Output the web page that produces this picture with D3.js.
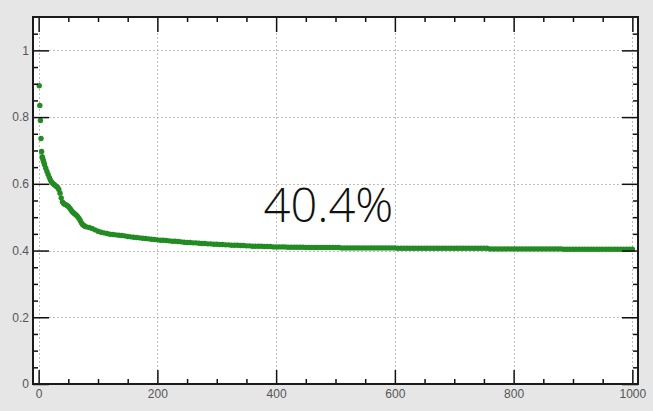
<!DOCTYPE html>
<html>
<head>
<meta charset="utf-8">
<script src="https://cdn.jsdelivr.net/npm/d3@7"></script>
<style>
  html, body { margin: 0; padding: 0; background: #e6e6e6; }
  svg { display: block; }
  .tick text { font-family: "Liberation Sans", Arial, sans-serif; font-size: 12px; fill: #555; }
</style>
</head>
<body>
<svg id="chart" width="653" height="411"></svg>
<script>
// Running hit rate per trial number
const earlyTrials = [1, 2, 3, 4, 5, 6, 7, 8, 9, 10, 12, 14, 16, 18, 20, 22, 24, 26, 28, 30,
  32, 34, 36, 38, 40, 42, 44, 46, 48, 50, 52, 54, 56, 58, 60, 62, 64, 66, 68, 70,
  72, 74, 76, 78, 80];
const earlyRate = [0.894, 0.835, 0.790, 0.736, 0.697, 0.681, 0.675, 0.669, 0.663, 0.657,
  0.647, 0.637, 0.628, 0.619, 0.611, 0.605, 0.601, 0.598, 0.595, 0.592,
  0.589, 0.583, 0.572, 0.558, 0.546, 0.541, 0.539, 0.537, 0.535, 0.532,
  0.528, 0.523, 0.518, 0.514, 0.511, 0.508, 0.505, 0.501, 0.496, 0.490,
  0.483, 0.478, 0.475, 0.473, 0.471];

const laterTrials = [85, 90, 95, 100, 105, 110, 115, 120, 125, 130, 135, 140, 145, 150,
  155, 160, 165, 170, 175, 180, 185, 190, 195, 200, 205, 210, 215, 220, 225, 230,
  235, 240, 245, 250, 255, 260, 265, 270, 275, 280, 285, 290, 295, 300, 305, 310,
  315, 320, 325, 330, 335, 340, 345, 350, 355, 360, 365, 370, 375, 380, 385, 390,
  395, 400, 405, 410, 415, 420, 425, 430, 435, 440, 445, 450, 455, 460, 465, 470,
  475, 480, 485, 490, 495, 500, 505, 510, 515, 520, 525, 530, 535, 540, 545, 550,
  555, 560, 565, 570, 575, 580, 585, 590, 595, 600, 605, 610, 615, 620, 625, 630,
  635, 640, 645, 650, 655, 660, 665, 670, 675, 680, 685, 690, 695, 700, 705, 710,
  715, 720, 725, 730, 735, 740, 745, 750, 755, 760, 765, 770, 775, 780, 785, 790,
  795, 800, 805, 810, 815, 820, 825, 830, 835, 840, 845, 850, 855, 860, 865, 870,
  875, 880, 885, 890, 895, 900, 905, 910, 915, 920, 925, 930, 935, 940, 945, 950,
  955, 960, 965, 970, 975, 980, 985, 990, 995, 1000];
const laterRate = [0.469, 0.466, 0.462, 0.458, 0.455, 0.453, 0.451, 0.449, 0.448, 0.447,
  0.446, 0.445, 0.444, 0.442, 0.441, 0.440, 0.439, 0.438, 0.437, 0.436,
  0.435, 0.434, 0.433, 0.432, 0.431, 0.431, 0.430, 0.429, 0.428, 0.428,
  0.427, 0.426, 0.425, 0.424, 0.424, 0.423, 0.423, 0.422, 0.421, 0.421,
  0.420, 0.420, 0.419, 0.419, 0.418, 0.418, 0.417, 0.417, 0.416, 0.416,
  0.416, 0.415, 0.415, 0.414, 0.414, 0.413, 0.413, 0.413, 0.413, 0.412,
  0.412, 0.412, 0.411, 0.411, 0.411, 0.411, 0.411, 0.410, 0.410, 0.410,
  0.410, 0.410, 0.410, 0.409, 0.409, 0.409, 0.409, 0.409, 0.409, 0.409,
  0.409, 0.409, 0.409, 0.409, 0.409, 0.408, 0.408, 0.408, 0.408, 0.408,
  0.408, 0.408, 0.408, 0.408, 0.408, 0.408, 0.408, 0.408, 0.408, 0.408,
  0.408, 0.408, 0.408, 0.408, 0.407, 0.407, 0.407, 0.407, 0.407, 0.407,
  0.407, 0.407, 0.407, 0.407, 0.407, 0.407, 0.407, 0.407, 0.407, 0.407,
  0.407, 0.407, 0.407, 0.407, 0.407, 0.407, 0.407, 0.407, 0.407, 0.407,
  0.407, 0.407, 0.407, 0.407, 0.407, 0.405, 0.405, 0.405, 0.405, 0.405,
  0.405, 0.405, 0.405, 0.405, 0.405, 0.405, 0.405, 0.405, 0.405, 0.405,
  0.405, 0.405, 0.405, 0.405, 0.405, 0.405, 0.405, 0.405, 0.405, 0.405,
  0.404, 0.404, 0.404, 0.404, 0.404, 0.404, 0.404, 0.404, 0.404, 0.404,
  0.404, 0.404, 0.404, 0.404, 0.404, 0.404, 0.404, 0.404, 0.404, 0.404,
  0.404, 0.404, 0.404, 0.404];

const xMajorTicks = [0, 200, 400, 600, 800, 1000];
const yMajorTicks = [0, 0.2, 0.4, 0.6, 0.8, 1];

const points = earlyTrials.map((t, i) => ({ t, v: earlyRate[i] }))
  .concat(laterTrials.map((t, i) => ({ t, v: laterRate[i] })));
const finalRate = points[points.length - 1].v;

const svg = d3.select("#chart");
const plot = { left: 33, right: 638, top: 17, bottom: 384 };

const x = d3.scaleLinear().domain([-9.5, 1009.5]).range([plot.left, plot.right]);
const y = d3.scaleLinear().domain([0, 1.1]).range([plot.bottom, plot.top]);

const xMinor = d3.range(0, 1001, 50).filter(v => v % 200 !== 0);
const yMinor = d3.range(0, 22).map(i => i * 0.05).filter(v => Math.abs(v * 5 - Math.round(v * 5)) > 1e-6);

svg.append("rect").attr("width", 653).attr("height", 411).attr("fill", "#e6e6e6");
svg.append("rect")
  .attr("x", plot.left).attr("y", plot.top)
  .attr("width", plot.right - plot.left).attr("height", plot.bottom - plot.top)
  .attr("fill", "#fff");

// dotted grid
const grid = svg.append("g").attr("stroke", "#bdbdbd").attr("stroke-width", 1).attr("stroke-dasharray", "2,2");
grid.selectAll("line.gx").data(xMajorTicks).join("line")
  .attr("x1", d => Math.round(x(d)) + 0.5).attr("x2", d => Math.round(x(d)) + 0.5)
  .attr("y1", plot.top).attr("y2", plot.bottom);
grid.selectAll("line.gy").data(yMajorTicks.filter(d => d > 0)).join("line")
  .attr("y1", d => Math.round(y(d)) + 0.5).attr("y2", d => Math.round(y(d)) + 0.5)
  .attr("x1", plot.left).attr("x2", plot.right);

// markers
svg.append("g").selectAll("circle").data(points).join("circle")
  .attr("cx", d => x(d.t)).attr("cy", d => y(d.v))
  .attr("r", 2.7).attr("fill", "#228b22");

// final rate annotation
svg.append("text")
  .attr("x", x(488)).attr("y", y(0.485))
  .attr("text-anchor", "middle")
  .attr("font-family", "'Open Sans', 'Noto Sans', sans-serif")
  .attr("font-weight", 300)
  .attr("font-size", 47)
  .attr("fill", "#111")
  .text(d3.format(".1%")(finalRate));

const fmtY = d => String(+d.toFixed(1));

function styleAxis(g) {
  g.select(".domain").remove();
  g.selectAll(".tick line").attr("stroke", "#111").attr("stroke-width", 1.5);
}

// bottom axis
svg.append("g").attr("transform", `translate(0,${plot.bottom})`)
  .call(d3.axisBottom(x).tickValues(xMinor).tickSize(-5).tickFormat(""))
  .call(styleAxis);
svg.append("g").attr("transform", `translate(0,${plot.bottom})`)
  .call(d3.axisBottom(x).tickValues(xMajorTicks).tickSize(-14).tickPadding(5).tickFormat(d3.format("d")))
  .call(styleAxis);

// top axis
svg.append("g").attr("transform", `translate(0,${plot.top})`)
  .call(d3.axisTop(x).tickValues(xMinor).tickSize(-5).tickFormat(""))
  .call(styleAxis);
svg.append("g").attr("transform", `translate(0,${plot.top})`)
  .call(d3.axisTop(x).tickValues(xMajorTicks).tickSize(-15).tickFormat(""))
  .call(styleAxis);

// left axis
svg.append("g").attr("transform", `translate(${plot.left},0)`)
  .call(d3.axisLeft(y).tickValues(yMinor).tickSize(-5).tickFormat(""))
  .call(styleAxis);
svg.append("g").attr("transform", `translate(${plot.left},0)`)
  .call(d3.axisLeft(y).tickValues(yMajorTicks).tickSize(-16).tickPadding(4).tickFormat(fmtY))
  .call(styleAxis);

// right axis
svg.append("g").attr("transform", `translate(${plot.right},0)`)
  .call(d3.axisRight(y).tickValues(yMinor).tickSize(-5).tickFormat(""))
  .call(styleAxis);
svg.append("g").attr("transform", `translate(${plot.right},0)`)
  .call(d3.axisRight(y).tickValues(yMajorTicks).tickSize(-16).tickFormat(""))
  .call(styleAxis);

// frame
svg.append("rect")
  .attr("x", plot.left).attr("y", plot.top)
  .attr("width", plot.right - plot.left).attr("height", plot.bottom - plot.top)
  .attr("fill", "none").attr("stroke", "#1a1a1a").attr("stroke-width", 2);
</script>
</body>
</html>
